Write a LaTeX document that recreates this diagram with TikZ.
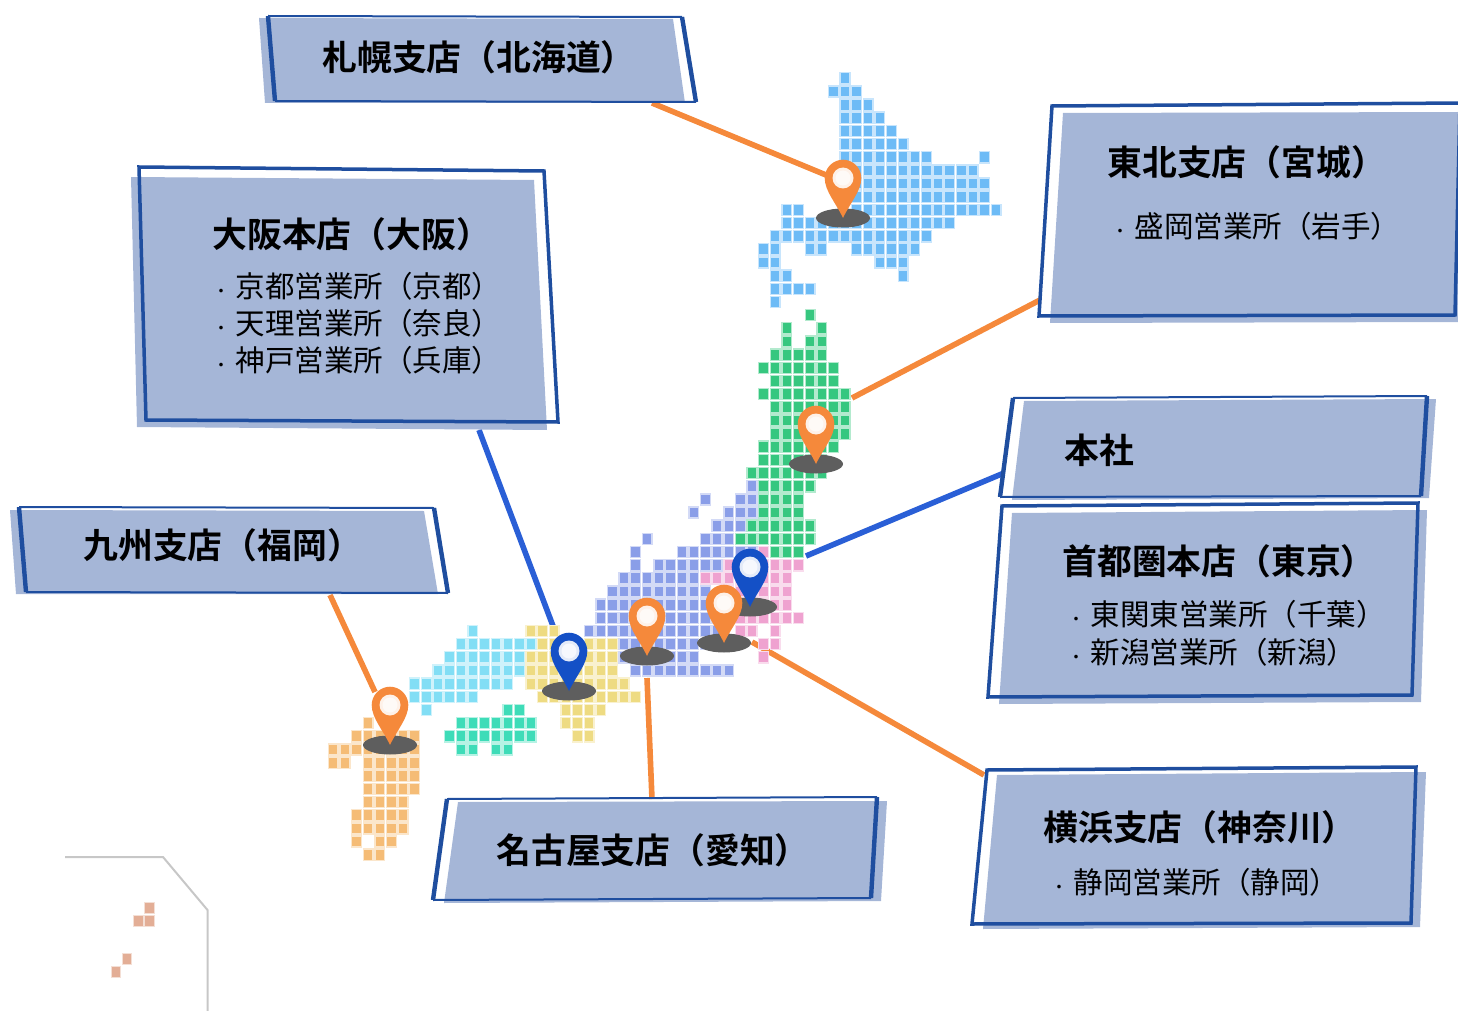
\documentclass[tikz,border=0pt]{standalone}
\usepackage{fontspec}
\setmainfont{Noto Sans CJK JP}
\newfontfamily\jpbold[BoldFont={Noto Sans CJK JP Bold}]{Noto Sans CJK JP}
\definecolor{boxfill}{HTML}{A5B6D7}
\definecolor{boxedge}{HTML}{1F4E9F}
\definecolor{pinor}{HTML}{F5893B}
\definecolor{pinbl}{HTML}{1450C6}
\definecolor{pinsh}{HTML}{5E5E5E}
\definecolor{linkbl}{HTML}{2A5FD6}
\definecolor{hok}{HTML}{6DBBF6}
\definecolor{toh}{HTML}{36C77F}
\definecolor{kan}{HTML}{8A9EE8}
\definecolor{kto}{HTML}{EFA2D0}
\definecolor{kin}{HTML}{EEDB82}
\definecolor{chu}{HTML}{82DEF5}
\definecolor{shi}{HTML}{3EDCB8}
\definecolor{kyu}{HTML}{F5BC76}
\definecolor{oki}{HTML}{E3AE96}
\newcommand\hr[4]{\foreach \cc in {#3,...,#4}{%
  \path[draw=#1!38,fill=#1,line width=0.7pt]
   ({845+11.63*\cc-4.9},{78.3+13.16*#2-5.6}) rectangle ++(9.8,11.2);}}
\newcommand\mappin[3]{%
 \begin{scope}[shift={(#1,#2)}]
  \fill[pinsh] (0,40) ellipse [x radius=27,y radius=9.5];
  \fill[#3] (-18.3,0) .. controls (-18.3,-10) and (-10,-18.3) .. (0,-18.3)
    .. controls (10,-18.3) and (18.3,-10) .. (18.3,0)
    .. controls (18.3,13) and (7,25) .. (0,40)
    .. controls (-7,25) and (-18.3,13) .. cycle;
  \fill[white!88!#3] (0,0) circle [radius=10.5];
  \fill[white!96!#3] (0,0) circle [radius=7.5];
 \end{scope}}
\newcommand\dt{\makebox[1em][c]{\fontsize{8.5}{8.5}\selectfont ・}}
\tikzset{
 x=0.5pt,y=-0.5pt,
 fillq/.style={fill=boxfill,draw=none},
 edgeround/.style={draw=boxedge,line width=1.75pt,line join=miter},
 edgethin/.style={draw=boxedge,line width=1pt},
 edgethick/.style={draw=boxedge,line width=2.2pt},
 linkor/.style={draw=pinor,line width=2.8pt},
 linkb/.style={draw=linkbl,line width=2.8pt},
 ttl/.style={anchor=base west,inner sep=0pt,font=\jpbold\bfseries\fontsize{17.4}{17.4}\selectfont,yshift=-6.3pt},
 sub/.style={anchor=base west,inner sep=0pt,font=\fontsize{14.75}{15}\selectfont,yshift=-5.4pt},
 coastline/.style={draw=black!22,line width=1pt},
 okicell/.style={fill=oki,draw=oki!40,line width=0.4pt},
}
\begin{document}
\begin{tikzpicture}
\useasboundingbox (0,0) rectangle (1458,1011);
% connector end points
\coordinate (sapA) at (652,103); \coordinate (sapB) at (826,175);
\coordinate (tohA) at (1040,300); \coordinate (tohB) at (852,398);
\coordinate (honA) at (1004,473); \coordinate (honB) at (806,556);
\coordinate (osaA) at (479,430); \coordinate (osaB) at (553,626);
\coordinate (kyuA) at (330,595); \coordinate (kyuB) at (375,692);
\coordinate (nagA) at (647,678); \coordinate (nagB) at (652,799);
\coordinate (yokA) at (984,775); \coordinate (yokB) at (752,642);
\draw[linkor] (sapA) -- (sapB);
\draw[linkor] (tohA) -- (tohB);
\draw[linkb] (honA) -- (honB);
\draw[linkb] (osaA) -- (osaB);
\draw[linkor] (kyuA) -- (kyuB);
\draw[linkor] (nagA) -- (nagB);
\draw[linkor] (yokA) -- (yokB);
% Hokkaido
\hr{hok}{0}{0}{0}\hr{hok}{1}{-1}{1}\hr{hok}{2}{0}{2}\hr{hok}{3}{0}{3}
\hr{hok}{4}{0}{4}\hr{hok}{5}{0}{5}\hr{hok}{6}{0}{7}\hr{hok}{6}{12}{12}
\hr{hok}{7}{0}{11}\hr{hok}{8}{0}{12}\hr{hok}{9}{1}{12}
\hr{hok}{10}{-5}{-4}\hr{hok}{10}{1}{13}
\hr{hok}{11}{-5}{9}\hr{hok}{12}{-6}{7}
\hr{hok}{13}{-7}{-6}\hr{hok}{13}{-3}{-2}\hr{hok}{13}{1}{6}
\hr{hok}{14}{-7}{-6}\hr{hok}{14}{3}{5}
\hr{hok}{15}{-6}{-5}\hr{hok}{15}{5}{5}
\hr{hok}{16}{-6}{-3}\hr{hok}{17}{-6}{-6}
% Tohoku
\hr{toh}{18}{-3}{-3}\hr{toh}{19}{-5}{-5}\hr{toh}{19}{-2}{-2}
\hr{toh}{20}{-5}{-5}\hr{toh}{20}{-3}{-2}\hr{toh}{21}{-6}{-2}
\hr{toh}{22}{-7}{-1}\hr{toh}{23}{-6}{-1}\hr{toh}{24}{-7}{0}
\hr{toh}{25}{-6}{0}\hr{toh}{26}{-6}{0}\hr{toh}{27}{-6}{0}
\hr{toh}{28}{-7}{-1}\hr{toh}{29}{-7}{-2}\hr{toh}{30}{-8}{-2}
\hr{toh}{31}{-7}{-3}\hr{toh}{32}{-7}{-4}\hr{toh}{33}{-7}{-4}
\hr{toh}{34}{-8}{-3}\hr{toh}{35}{-9}{-3}\hr{toh}{36}{-7}{-4}
% Chubu / Kanto-west
\hr{kan}{31}{-8}{-8}\hr{kan}{32}{-12}{-12}\hr{kan}{32}{-9}{-8}
\hr{kan}{33}{-13}{-13}\hr{kan}{33}{-10}{-8}\hr{kan}{34}{-11}{-9}
\hr{kan}{35}{-17}{-17}\hr{kan}{35}{-12}{-10}
\hr{kan}{36}{-18}{-18}\hr{kan}{36}{-14}{-8}
\hr{kan}{37}{-18}{-18}\hr{kan}{37}{-16}{-9}
\hr{kan}{38}{-19}{-13}\hr{kan}{39}{-20}{-12}
\hr{kan}{40}{-21}{-12}\hr{kan}{41}{-21}{-11}\hr{kan}{42}{-22}{-11}
\hr{kan}{43}{-19}{-11}\hr{kan}{44}{-19}{-13}\hr{kan}{45}{-18}{-10}
% Kanto
\hr{kto}{36}{-7}{-7}\hr{kto}{37}{-10}{-4}
\hr{kto}{38}{-12}{-5}\hr{kto}{39}{-10}{-5}\hr{kto}{40}{-10}{-5}
\hr{kto}{41}{-10}{-4}\hr{kto}{42}{-9}{-8}\hr{kto}{42}{-6}{-6}
\hr{kto}{43}{-7}{-6}\hr{kto}{44}{-7}{-7}
% Kinki
\hr{kin}{42}{-27}{-25}\hr{kin}{43}{-26}{-20}\hr{kin}{44}{-27}{-20}
\hr{kin}{45}{-27}{-20}\hr{kin}{46}{-27}{-19}\hr{kin}{47}{-26}{-18}
\hr{kin}{48}{-24}{-21}\hr{kin}{49}{-24}{-22}\hr{kin}{50}{-23}{-22}
% Chugoku
\hr{chu}{42}{-32}{-32}\hr{chu}{43}{-33}{-27}\hr{chu}{44}{-34}{-28}
\hr{chu}{45}{-35}{-28}\hr{chu}{46}{-37}{-29}\hr{chu}{47}{-37}{-32}
\hr{chu}{48}{-36}{-36}
% Shikoku
\hr{shi}{48}{-29}{-28}\hr{shi}{49}{-33}{-27}\hr{shi}{50}{-34}{-27}
\hr{shi}{51}{-33}{-32}\hr{shi}{51}{-30}{-29}
% Kyushu
\hr{kyu}{49}{-41}{-41}\hr{kyu}{50}{-42}{-37}\hr{kyu}{51}{-44}{-37}
\hr{kyu}{52}{-44}{-43}\hr{kyu}{52}{-41}{-37}\hr{kyu}{53}{-41}{-37}
\hr{kyu}{54}{-41}{-37}\hr{kyu}{55}{-41}{-38}\hr{kyu}{56}{-42}{-38}
\hr{kyu}{57}{-42}{-38}\hr{kyu}{58}{-42}{-42}\hr{kyu}{58}{-40}{-39}
\hr{kyu}{59}{-41}{-40}
% Okinawa inset
\draw[coastline] (65,857) -- (163,857) -- (207.5,910) -- (207.5,1011);
\foreach \ox/\oy in {149.5/907.7,138.5/920.7,149.5/920.7,126.7/958.7,115.7/971.7}
  {\path[okicell] (\ox-4.7,\oy-5.3) rectangle ++(9.4,10.6);}
% Pins
\mappin{843}{178}{pinor}
\mappin{816}{424}{pinor}
\mappin{750}{567}{pinbl}
\mappin{724}{603}{pinor}
\mappin{647}{616}{pinor}
\mappin{569}{651}{pinbl}
\mappin{390}{705}{pinor}
% Sapporo
\fill[fillq] (259,18) -- (673,19) -- (685,103) -- (265,103) -- cycle;
\draw[edgethin] (268,16) -- (682,17); \draw[edgethin] (696,102) -- (275,101);
\draw[edgethick] (268,16) -- (275,101); \draw[edgethick] (682,17) -- (696,102);
\node[ttl] (tsap) at (322,58) {札幌支店（北海道）};
% Tohoku
\fill[fillq] (1063,113) -- (1458,112) -- (1458,322) -- (1050,323) -- cycle;
\draw[edgeround] (1052,106) -- (1460,103) -- (1455,315) -- (1039,316) -- cycle;
\node[ttl] (ttoh) at (1107,163) {東北支店（宮城）};
\node[sub] (stoh) at (1105,227) {\dt 盛岡営業所（岩手）};
% Osaka
\fill[fillq] (131,177) -- (534,180) -- (547,430) -- (137,427) -- cycle;
\draw[edgeround] (139,167) -- (544,171) -- (558,422) -- (146,420) -- cycle;
\node[ttl] (tosa) at (212,235) {大阪本店（大阪）};
\node[sub] (sosa1) at (206,287) {\dt 京都営業所（京都）};
\node[sub] (sosa2) at (206,324) {\dt 天理営業所（奈良）};
\node[sub] (sosa3) at (206,361) {\dt 神戸営業所（兵庫）};
% Kyushu
\fill[fillq] (10,510) -- (424,511) -- (438,594) -- (16,594) -- cycle;
\draw[edgethin] (19,507) -- (434,508); \draw[edgethin] (448,593) -- (26,592);
\draw[edgethick] (19,507) -- (26,592); \draw[edgethick] (434,508) -- (448,593);
\node[ttl] (tkyu) at (83,546) {九州支店（福岡）};
% Head office
\fill[fillq] (1024,401) -- (1436,399) -- (1429,498) -- (1012,500) -- cycle;
\draw[edgethin] (1013,398) -- (1427,396); \draw[edgethin] (1421,496) -- (1000,497);
\draw[edgethick] (1013,398) -- (1000,497); \draw[edgethick] (1427,396) -- (1421,496);
\node[ttl] (thon) at (1064,451) {本社};
% Shutoken
\fill[fillq] (1012,513) -- (1427,510) -- (1421,702) -- (999,704) -- cycle;
\draw[edgeround] (1002,506) -- (1418,503) -- (1412,695) -- (988,697) -- cycle;
\node[ttl] (tshu) at (1062,562) {首都圏本店（東京）};
\node[sub] (sshu1) at (1061,615) {\dt 東関東営業所（千葉）};
\node[sub] (sshu2) at (1061,653) {\dt 新潟営業所（新潟）};
% Nagoya
\fill[fillq] (458,802) -- (887,801) -- (881,901) -- (444,903) -- cycle;
\draw[edgethin] (447,799) -- (877,797); \draw[edgethin] (871,898) -- (433,900);
\draw[edgethick] (447,799) -- (433,900); \draw[edgethick] (877,797) -- (871,898);
\node[ttl] (tnag) at (496,851) {名古屋支店（愛知）};
% Yokohama
\fill[fillq] (997,775) -- (1426,772) -- (1420,927) -- (983,929) -- cycle;
\draw[edgeround] (987,770) -- (1416,767) -- (1411,923) -- (972,924) -- cycle;
\node[ttl] (tyok) at (1043,828) {横浜支店（神奈川）};
\node[sub] (syok) at (1044,883) {\dt 静岡営業所（静岡）};
\end{tikzpicture}
\end{document}
